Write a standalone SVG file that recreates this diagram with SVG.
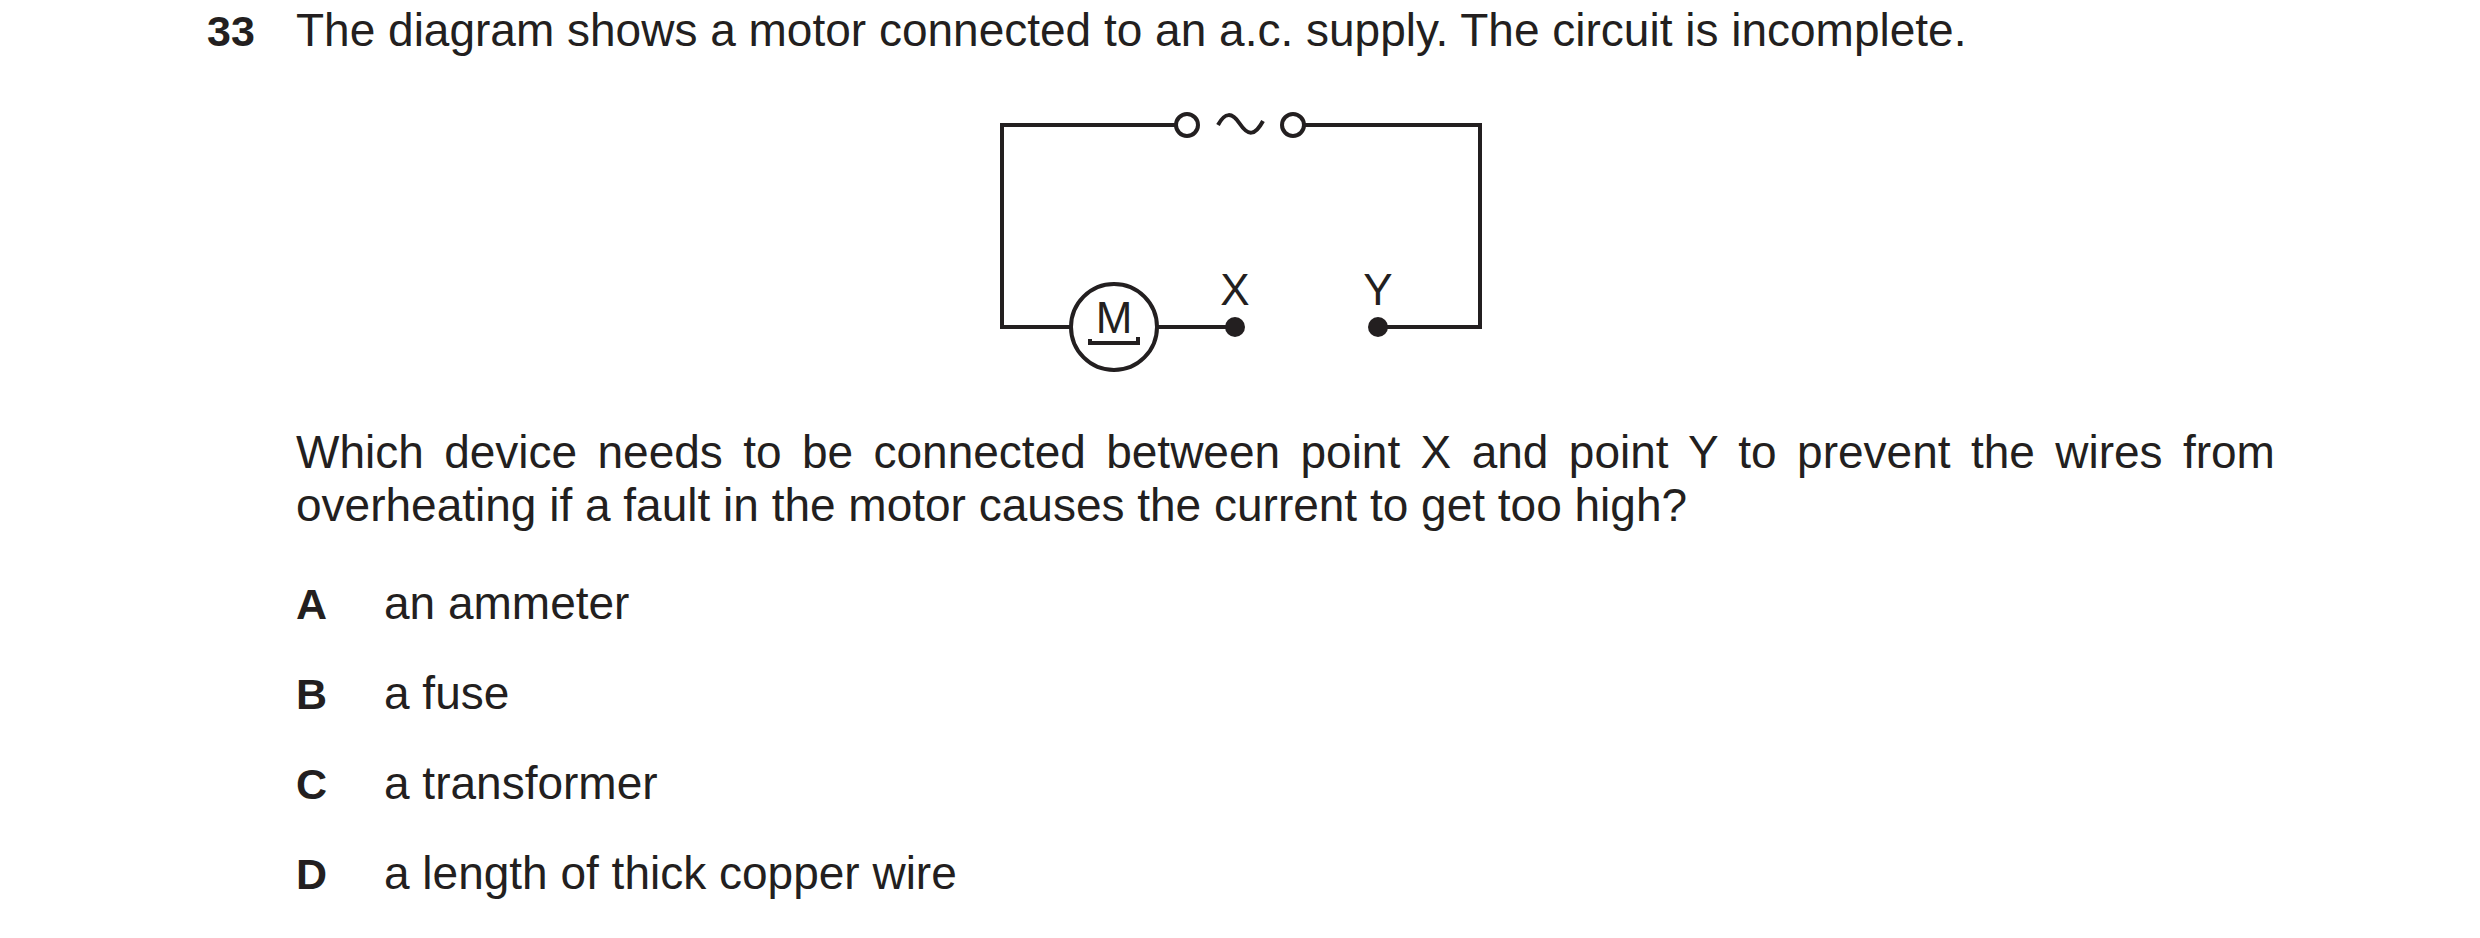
<svg xmlns="http://www.w3.org/2000/svg" width="2480" height="938" viewBox="0 0 2480 938">
<style>
text{font-family:"Liberation Sans",Arial,sans-serif;fill:#231f20}
.t{font-size:46px}
.b{font-size:43px;font-weight:bold}
.w{stroke:#231f20;stroke-width:4;fill:none}
</style>
<rect width="2480" height="938" fill="#fff"/>
<text class="b" x="207" y="46">33</text>
<text class="t" x="296" y="46">The diagram shows a motor connected to an a.c. supply. The circuit is incomplete.</text>
<g id="connectors">
<path class="w" d="M1176,125 H1002 V327 H1071"/>
<path class="w" d="M1304,125 H1480 V327 H1378"/>
<path class="w" d="M1157,327 H1235"/>
</g>
<g id="supply">
<circle class="w" cx="1187" cy="125" r="11"/>
<circle class="w" cx="1293" cy="125" r="11"/>
<path class="w" d="M1218,125 C1225,112 1232,112 1240,124 C1248,136 1255,136 1263,121"/>
</g>
<g id="motor">
<circle class="w" cx="1114" cy="327" r="43"/>
<text x="1114" y="333" font-size="44" text-anchor="middle">M</text>
<path class="w" d="M1090,339 V343 H1138 V337" stroke-width="3"/>
</g>
<g id="X">
<circle cx="1235" cy="327" r="10" fill="#231f20"/>
<text x="1235" y="305" font-size="44" text-anchor="middle">X</text>
</g>
<g id="Y">
<circle cx="1378" cy="327" r="10" fill="#231f20"/>
<text x="1378" y="305" font-size="44" text-anchor="middle">Y</text>
</g>
<text class="t" x="296" y="468" word-spacing="7.6">Which device needs to be connected between point X and point Y to prevent the wires from</text>
<text class="t" x="296" y="521">overheating if a fault in the motor causes the current to get too high?</text>
<text class="b" x="296" y="619">A</text><text class="t" x="384" y="619">an ammeter</text>
<text class="b" x="296" y="709">B</text><text class="t" x="384" y="709">a fuse</text>
<text class="b" x="296" y="799">C</text><text class="t" x="384" y="799">a transformer</text>
<text class="b" x="296" y="889">D</text><text class="t" x="384" y="889">a length of thick copper wire</text>
</svg>
